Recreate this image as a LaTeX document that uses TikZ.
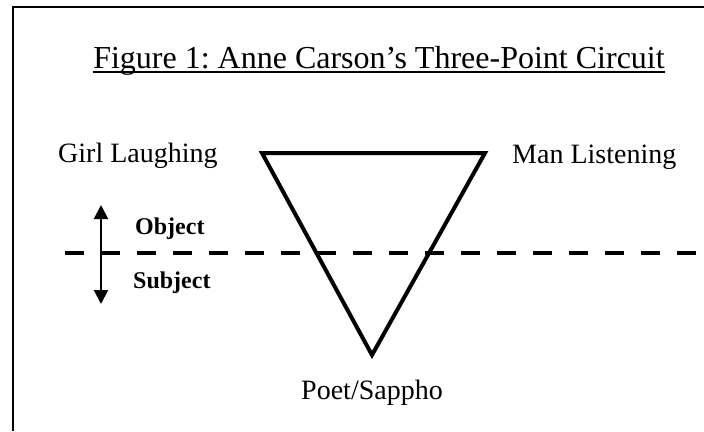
\documentclass[tikz,border=0pt]{standalone}
\usepackage{fontspec}
\setmainfont{Liberation Serif}
\usetikzlibrary{arrows.meta}
\frenchspacing
\begin{document}
\begin{tikzpicture}[x=1pt,y=-1pt,
  lbl/.style={inner sep=0pt,font=\fontsize{28}{30}\selectfont},
  bold/.style={inner sep=0pt,font=\fontsize{24}{26}\selectfont\bfseries},
  frameline/.style={line width=2pt},
  tri/.style={line width=4pt,line join=miter},
  dashline/.style={line width=4pt,dash pattern=on 19pt off 17pt},
  dbl/.style={line width=2pt,{Triangle[width=14pt,length=14pt]}-{Triangle[width=14pt,length=14pt]}}]
\useasboundingbox (0,0) rectangle (704,431);
% frame
\coordinate (fb) at (13,431);
\coordinate (fc) at (13,6.5);
\coordinate (fr) at (704,6.5);
\draw[frameline] (fb) -- (fc) -- (fr);
% title
\node[inner sep=0pt,anchor=base,font=\fontsize{32}{34}\selectfont] (title) at (379,68) {Figure 1: Anne Carson’s Three-Point Circuit};
\draw[line width=2pt] ([yshift=-4pt]title.base west) -- ([yshift=-4pt]title.base east);
% labels
\node[lbl,anchor=base west] (girl) at (58,162) {Girl Laughing};
\node[lbl,anchor=base west] (man) at (512,163) {Man Listening};
\node[lbl,anchor=base] (poet) at (372,399) {Poet/Sappho};
% triangle
\coordinate (tl) at (262,153);
\coordinate (tr) at (485,153);
\coordinate (tb) at (372,355);
\draw[tri] (tl) -- (tr) -- (tb) -- cycle;
% dashed line
\coordinate (dl) at (65,253);
\coordinate (dr) at (700,253);
\draw[dashline] (dl) -- (dr);
% arrow
\coordinate (au) at (101,205);
\coordinate (ad) at (101,304);
\draw[dbl] (au) -- (ad);
\node[bold,anchor=base west] (obj) at (135,234) {Object};
\node[bold,anchor=base west] (subj) at (133,288) {Subject};
\end{tikzpicture}
\end{document}
